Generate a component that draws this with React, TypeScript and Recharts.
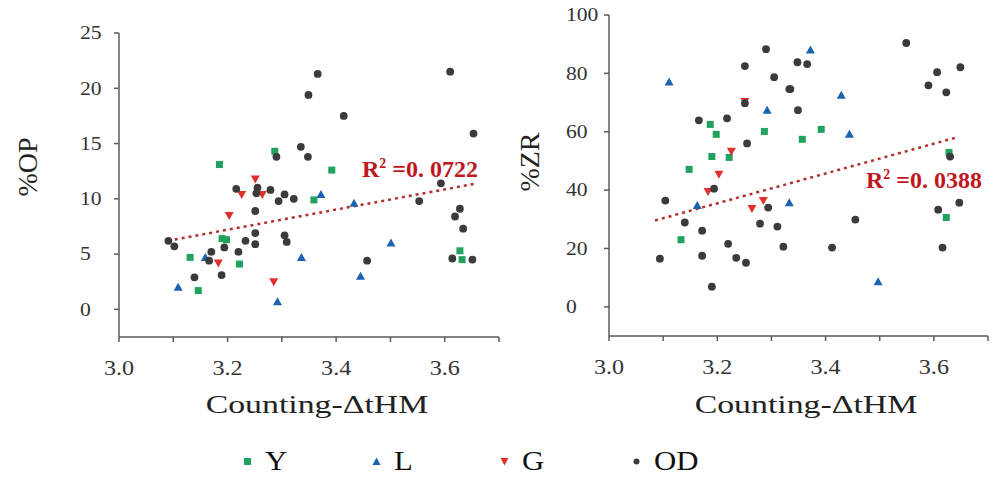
import React from 'react';
import { ScatterChart, Scatter, XAxis, YAxis, ReferenceLine } from 'recharts';

// ---------- data ----------
const X_TICKS = [3.0, 3.1, 3.2, 3.3, 3.4, 3.5, 3.6, 3.7];
const X_LABELED = [3.0, 3.2, 3.4, 3.6];
const OP_TICKS = [0, 5, 10, 15, 20, 25];
const ZR_TICKS = [0, 20, 40, 60, 80, 100];

// %OP panel
const opY = [
  { x: 3.131, y: 4.7 }, { x: 3.146, y: 1.7 }, { x: 3.185, y: 13.1 }, { x: 3.19, y: 6.4 },
  { x: 3.198, y: 6.3 }, { x: 3.222, y: 4.1 }, { x: 3.287, y: 14.3 }, { x: 3.359, y: 9.9 },
  { x: 3.392, y: 12.6 }, { x: 3.628, y: 5.3 }, { x: 3.632, y: 4.5 },
];
const opL = [
  { x: 3.109, y: 2.0 }, { x: 3.159, y: 4.7 }, { x: 3.292, y: 0.7 }, { x: 3.336, y: 4.7 },
  { x: 3.372, y: 10.4 }, { x: 3.433, y: 9.6 }, { x: 3.445, y: 3.0 }, { x: 3.501, y: 6.0 },
];
const opG = [
  { x: 3.183, y: 4.2 }, { x: 3.203, y: 8.5 }, { x: 3.226, y: 10.4 }, { x: 3.251, y: 11.8 },
  { x: 3.264, y: 10.4 }, { x: 3.285, y: 2.5 },
];
const opOD = [
  { x: 3.091, y: 6.2 }, { x: 3.102, y: 5.7 }, { x: 3.139, y: 2.9 }, { x: 3.17, y: 5.2 },
  { x: 3.166, y: 4.4 }, { x: 3.189, y: 3.1 }, { x: 3.194, y: 5.6 }, { x: 3.216, y: 10.9 },
  { x: 3.22, y: 5.2 }, { x: 3.233, y: 6.2 }, { x: 3.251, y: 8.9 }, { x: 3.251, y: 6.9 },
  { x: 3.251, y: 5.9 }, { x: 3.255, y: 11.0 }, { x: 3.253, y: 10.5 }, { x: 3.279, y: 10.8 },
  { x: 3.294, y: 9.8 }, { x: 3.305, y: 10.4 }, { x: 3.305, y: 6.7 }, { x: 3.309, y: 6.1 },
  { x: 3.29, y: 13.8 }, { x: 3.366, y: 21.3 }, { x: 3.349, y: 19.4 }, { x: 3.414, y: 17.5 },
  { x: 3.61, y: 21.5 }, { x: 3.653, y: 15.9 }, { x: 3.335, y: 14.7 }, { x: 3.348, y: 13.8 },
  { x: 3.322, y: 10.0 }, { x: 3.457, y: 4.4 }, { x: 3.553, y: 9.8 }, { x: 3.593, y: 11.4 },
  { x: 3.628, y: 9.1 }, { x: 3.619, y: 8.4 }, { x: 3.634, y: 7.3 }, { x: 3.614, y: 4.6 },
  { x: 3.651, y: 4.5 },
];
const opTrend = [{ x: 3.09, y: 6.2 }, { x: 3.66, y: 11.4 }];

// %ZR panel
const zrY = [
  { x: 3.187, y: 62.5 }, { x: 3.198, y: 59.1 }, { x: 3.287, y: 60.1 }, { x: 3.19, y: 51.5 },
  { x: 3.222, y: 51.2 }, { x: 3.148, y: 47.1 }, { x: 3.133, y: 23.0 }, { x: 3.392, y: 60.8 },
  { x: 3.357, y: 57.4 }, { x: 3.628, y: 52.9 }, { x: 3.623, y: 30.6 },
];
const zrL = [
  { x: 3.111, y: 77.0 }, { x: 3.292, y: 67.4 }, { x: 3.163, y: 34.7 }, { x: 3.333, y: 35.7 },
  { x: 3.372, y: 88.0 }, { x: 3.429, y: 72.5 }, { x: 3.444, y: 59.1 }, { x: 3.497, y: 8.6 },
];
const zrG = [
  { x: 3.251, y: 70.4 }, { x: 3.226, y: 53.3 }, { x: 3.203, y: 45.4 }, { x: 3.183, y: 39.5 },
  { x: 3.264, y: 33.7 }, { x: 3.285, y: 36.4 },
];
const zrOD = [
  { x: 3.29, y: 88.3 }, { x: 3.251, y: 82.5 }, { x: 3.305, y: 78.7 }, { x: 3.333, y: 74.6 },
  { x: 3.251, y: 69.8 }, { x: 3.166, y: 63.9 }, { x: 3.218, y: 64.6 }, { x: 3.255, y: 56.0 },
  { x: 3.194, y: 40.5 }, { x: 3.104, y: 36.4 }, { x: 3.14, y: 28.9 }, { x: 3.172, y: 26.1 },
  { x: 3.22, y: 21.6 }, { x: 3.094, y: 16.5 }, { x: 3.172, y: 17.5 }, { x: 3.235, y: 16.8 },
  { x: 3.253, y: 15.1 }, { x: 3.19, y: 6.9 }, { x: 3.294, y: 34.0 }, { x: 3.279, y: 28.5 },
  { x: 3.311, y: 27.5 }, { x: 3.322, y: 20.6 }, { x: 3.549, y: 90.4 }, { x: 3.348, y: 83.8 },
  { x: 3.366, y: 83.2 }, { x: 3.335, y: 74.6 }, { x: 3.349, y: 67.4 }, { x: 3.606, y: 80.4 },
  { x: 3.649, y: 82.1 }, { x: 3.59, y: 75.9 }, { x: 3.623, y: 73.5 }, { x: 3.63, y: 51.5 },
  { x: 3.608, y: 33.3 }, { x: 3.647, y: 35.7 }, { x: 3.455, y: 29.9 }, { x: 3.412, y: 20.3 },
  { x: 3.616, y: 20.3 },
];
const zrTrend = [{ x: 3.085, y: 29.6 }, { x: 3.643, y: 58.1 }];

const SERIES_NAMES = ['Y', 'L', 'G', 'OD'];

// ---------- styles ----------
const GREEN = '#21a35f';
const BLUE = '#1b63b0';
const RED = '#e0302c';
const DARK = '#3b3b3b';
const TREND = '#b3302f';
const R2_COLOR = '#c0171f';
const AXIS = '#5a5a5a';
const SERIF = "'Liberation Serif', 'Times New Roman', serif";

const Square = (p: any) => <rect x={p.cx - 3.5} y={p.cy - 3.5} width={7} height={7} fill={GREEN} />;
const TriUp = (p: any) => (
  <polygon points={`${p.cx},${p.cy - 4.5} ${p.cx - 4.5},${p.cy + 3.5} ${p.cx + 4.5},${p.cy + 3.5}`} fill={BLUE} />
);
const TriDown = (p: any) => (
  <polygon points={`${p.cx - 4.5},${p.cy - 3.5} ${p.cx + 4.5},${p.cy - 3.5} ${p.cx},${p.cy + 4.5}`} fill={RED} />
);
const Dot = (p: any) => <circle cx={p.cx} cy={p.cy} r={3.9} fill={DARK} />;

const XTick = (p: any) => {
  const v = p.payload.value;
  const show = X_LABELED.some((t) => Math.abs(t - v) < 1e-6);
  if (!show) return null;
  return (
    <g transform={`translate(${p.x},${p.y})`}>
      <text
        transform="scale(1.15,1)"
        x={0}
        y={0}
        dy="0.71em"
        textAnchor="middle"
        fill="#333"
        style={{ fontFamily: SERIF, fontSize: 21 }}
      >
        {v.toFixed(1)}
      </text>
    </g>
  );
};

const YTick = (p: any) => (
  <g transform={`translate(${p.x},${p.y})`}>
    <text
      transform="scale(1.2,1)"
      x={0}
      y={0}
      dy="0.35em"
      textAnchor="start"
      fill="#333"
      style={{ fontFamily: SERIF, fontSize: 18 }}
    >
      {p.payload.value}
    </text>
  </g>
);

type PanelProps = {
  yDomain: [number, number];
  yTicks: number[];
  top: number;
  right: number;
  bottom: number;
  width: number;
  tickMarginY: number;
  series: { y: any[]; l: any[]; g: any[]; od: any[] };
  trend: { x: number; y: number }[];
};

const Panel = ({ yDomain, yTicks, top, right, bottom, width, tickMarginY, series, trend }: PanelProps) => (
  <ScatterChart width={width} height={420} margin={{ top, right, bottom, left: 0 }} style={{ fontFamily: SERIF }}>
    <XAxis
      type="number"
      dataKey="x"
      domain={[3.0, 3.7]}
      ticks={X_TICKS}
      tick={XTick}
      tickSize={5}
      tickMargin={18}
      height={50}
      axisLine={{ stroke: AXIS, strokeWidth: 1.5 }}
      tickLine={{ stroke: AXIS, strokeWidth: 1.5 }}
      allowDataOverflow
      interval={0}
    />
    <YAxis
      type="number"
      dataKey="y"
      domain={yDomain}
      ticks={yTicks}
      tick={YTick}
      tickSize={5}
      tickMargin={tickMarginY}
      width={119}
      axisLine={{ stroke: AXIS, strokeWidth: 1.5 }}
      tickLine={{ stroke: AXIS, strokeWidth: 1.5 }}
      allowDataOverflow
      interval={0}
    />
    <Scatter name={SERIES_NAMES[0]} data={series.y} shape={Square} isAnimationActive={false} />
    <Scatter name={SERIES_NAMES[1]} data={series.l} shape={TriUp} isAnimationActive={false} />
    <Scatter name={SERIES_NAMES[2]} data={series.g} shape={TriDown} isAnimationActive={false} />
    <Scatter name={SERIES_NAMES[3]} data={series.od} shape={Dot} isAnimationActive={false} />
    <ReferenceLine
      segment={trend}
      stroke={TREND}
      strokeWidth={2.5}
      strokeDasharray="3 4"
      ifOverflow="visible"
    />
  </ScatterChart>
);

const R2 = ({ left, top, value }: { left: number; top: number; value: string }) => (
  <div
    style={{
      position: 'absolute',
      left,
      top,
      fontFamily: SERIF,
      fontWeight: 'bold',
      fontSize: 24,
      lineHeight: '24px',
      color: R2_COLOR,
      whiteSpace: 'nowrap',
    }}
  >
    R<span style={{ fontSize: 14, position: 'relative', top: -9 }}>2</span> =0. {value}
  </div>
);

const legendIcons = [
  <rect key="y" x={1} y={1} width={7} height={7} fill={GREEN} />,
  <polygon key="l" points="4.5,0.5 0.5,8 8.5,8" fill={BLUE} />,
  <polygon key="g" points="0.5,1 8.5,1 4.5,8.5" fill={RED} />,
  <circle key="od" cx={4.5} cy={4.5} r={3} fill={DARK} />,
];
const legendX = [243, 372, 500, 632];

export default function App() {
  return (
    <div style={{ position: 'absolute', left: 0, top: 0, width: 992, height: 484, background: '#fff', overflow: 'hidden', fontFamily: SERIF }}>
      <div style={{ position: 'absolute', left: 0, top: 0 }}>
        <Panel
          yDomain={[-2.5, 25]}
          yTicks={OP_TICKS}
          top={33}
          right={21}
          bottom={33}
          width={520}
          tickMarginY={34}
          series={{ y: opY, l: opL, g: opG, od: opOD }}
          trend={opTrend}
        />
      </div>
      <div style={{ position: 'absolute', left: 490, top: 0 }}>
        <Panel
          yDomain={[-10, 100]}
          yTicks={ZR_TICKS}
          top={15}
          right={4}
          bottom={34}
          width={502}
          tickMarginY={38}
          series={{ y: zrY, l: zrL, g: zrG, od: zrOD }}
          trend={zrTrend}
        />
      </div>

      {/* y axis titles */}
      <div style={{ position: 'absolute', left: 28, top: 167, transform: 'translate(-50%,-50%) rotate(-90deg)', fontFamily: SERIF, fontSize: 28, color: '#222', whiteSpace: 'nowrap', lineHeight: 1 }}>
        %OP
      </div>
      <div style={{ position: 'absolute', left: 530, top: 162, transform: 'translate(-50%,-50%) rotate(-90deg)', fontFamily: SERIF, fontSize: 28, color: '#222', whiteSpace: 'nowrap', lineHeight: 1 }}>
        %ZR
      </div>

      {/* x axis titles */}
      <div style={{ position: 'absolute', left: 317, top: 405, transform: 'translate(-50%,-50%) scaleX(1.3)', fontFamily: SERIF, fontSize: 26, color: '#222', whiteSpace: 'nowrap', lineHeight: 1 }}>
        Counting-ΔtHM
      </div>
      <div style={{ position: 'absolute', left: 806, top: 405, transform: 'translate(-50%,-50%) scaleX(1.3)', fontFamily: SERIF, fontSize: 26, color: '#222', whiteSpace: 'nowrap', lineHeight: 1 }}>
        Counting-ΔtHM
      </div>

      <R2 left={362} top={157} value="0722" />
      <R2 left={866} top={168} value="0388" />

      {/* legend */}
      {SERIES_NAMES.map((name, i) => (
        <div key={name} style={{ position: 'absolute', left: legendX[i], top: 446, height: 30, display: 'flex', alignItems: 'center', whiteSpace: 'nowrap' }}>
          <svg width={9} height={9} style={{ marginRight: 13 }}>{legendIcons[i]}</svg>
          <span style={{ fontFamily: SERIF, fontSize: 28, color: '#111', lineHeight: 1, display: 'inline-block', transform: 'scaleX(1.1)', transformOrigin: 'left center' }}>{name}</span>
        </div>
      ))}
    </div>
  );
}
